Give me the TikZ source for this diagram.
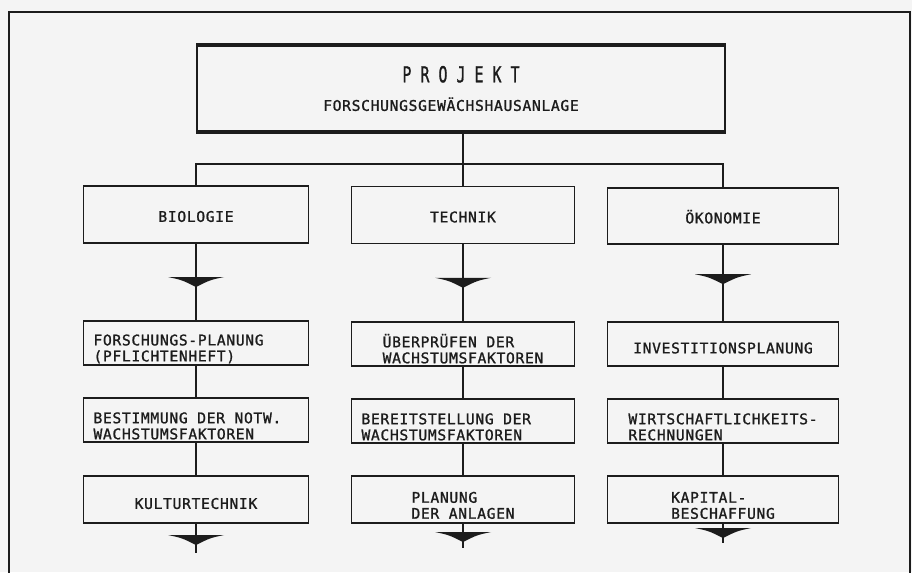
\documentclass[tikz,border=0pt]{standalone}
\usepackage{fontspec}
\usepackage{tikz}
\usetikzlibrary{calc}

\newfontfamily\typer[LetterSpace=4.5, FakeBold=1.2]{DejaVu Sans Mono}
\newfontfamily\typerplain[FakeBold=1.2]{DejaVu Sans Mono}
\newcommand\lift{\rule{0pt}{17pt}}
\newcommand\padline[2]{\makebox[#1][l]{#2}}
\definecolor{paper}{HTML}{F4F4F4}
\definecolor{ink}{HTML}{1C1C1C}

\tikzset{
  downhead/.pic={\fill (-28,-5) -- (28,-5) .. controls (14,-2) .. (0,5) .. controls (-14,-2) .. (-28,-5) -- cycle;},
  box/.style={draw, fill=paper, text=ink, align=left, inner sep=0pt, minimum height=33pt,
    font=\typer\fontsize{11pt}{12pt}\selectfont},
  oneline/.style={box, text height=14pt, text depth=0pt},
  head/.style={box, minimum height=42.75pt, text height=11pt, text depth=0pt},
  tall/.style={minimum height=35.25pt},
  wA/.style={minimum width=168.75pt},
  wB/.style={minimum width=167.25pt},
  wC/.style={minimum width=173.25pt},
  top/.style={box, align=center, minimum width=396pt, minimum height=63.75pt}
}

\begin{document}
\begin{tikzpicture}[x=0.75pt, y=-0.75pt, line width=1.35pt, color=ink]
	\fill[paper] (0,0) rectangle (912,572);
	\useasboundingbox (0,0) rectangle (912,572);
	\draw[line width=1pt] (9,580) -- (9,12) -- (910,12) -- (910,580);

	\node[top] (proj) at (461, 88.5) {{\typerplain\fontsize{16.5pt}{16.5pt}\selectfont\scalebox{0.68}[1]{P R O J E K T}}\\[9.4pt]FORSCHUNGSGEWÄCHSHAUSANLAGE\hspace*{15pt}};
	\draw[line width=3pt] (proj.north west) -- (proj.north east);
	\draw[line width=3pt] (proj.south west) -- (proj.south east);

	\node[head, wA] (bio) at (196, 214.5) {BIOLOGIE};
	\node[head, wB] (tec) at (463, 215) {TECHNIK};
	\node[head, wC, minimum height=42pt] (oek) at (723, 216) {ÖKONOMIE};

	\node[box, wA] (bio1) at (196, 343) {\lift\padline{153.75pt}{FORSCHUNGS-PLANUNG}\\(PFLICHTENHEFT)};
	\node[box, wA] (bio2) at (196, 420) {\lift\padline{153.75pt}{BESTIMMUNG DER NOTW.}\\WACHSTUMSFAKTOREN};
	\node[oneline, wA, tall] (bio3) at (196, 499.5) {KULTURTECHNIK};
	\node[box, wB] (tec1) at (463, 344) {\lift ÜBERPRÜFEN DER\\WACHSTUMSFAKTOREN};
	\node[box, wB] (tec2) at (463, 421) {\lift\padline{152.25pt}{BEREITSTELLUNG DER}\\WACHSTUMSFAKTOREN};
	\node[box, wB, tall] (tec3) at (463, 499.5) {\lift PLANUNG\\DER ANLAGEN};
	\node[oneline, wC] (oek1) at (723, 344) {INVESTITIONSPLANUNG};
	\node[box, wC] (oek2) at (723, 421) {\lift WIRTSCHAFTLICHKEITS-\\RECHNUNGEN};
	\node[box, wC, tall] (oek3) at (723, 499.5) {\lift KAPITAL-\\BESCHAFFUNG};

	\coordinate (bus) at (461, 164);
	\coordinate (endA) at (196, 553);
	\coordinate (endB) at (463, 548);
	\coordinate (endC) at (723, 543);

	\draw (proj.south -| tec.north) -- (tec.north);
	\draw (bio.north) |- (tec.north |- bus) -| (oek.north);

	\path (bio) edge (bio1)
		(bio1) edge (bio2)
		(bio2) edge (bio3)
		(bio3) edge (endA)
		(tec) edge (tec1)
		(tec1) edge (tec2)
		(tec2) edge (tec3)
		(tec3) edge (endB)
		(oek) edge (oek1)
		(oek1) edge (oek2)
		(oek2) edge (oek3)
		(oek3) edge (endC);

	\pic at ($(bio.south)!.5!(bio1.north)$) {downhead};
	\pic at ($(tec.south)!.5!(tec1.north)$) {downhead};
	\pic at ($(oek.south)!.45!(oek1.north)$) {downhead};
	\pic at (196, 540) {downhead};
	\pic at (463, 537) {downhead};
	\pic at (723, 533) {downhead};
\end{tikzpicture}
\end{document}
